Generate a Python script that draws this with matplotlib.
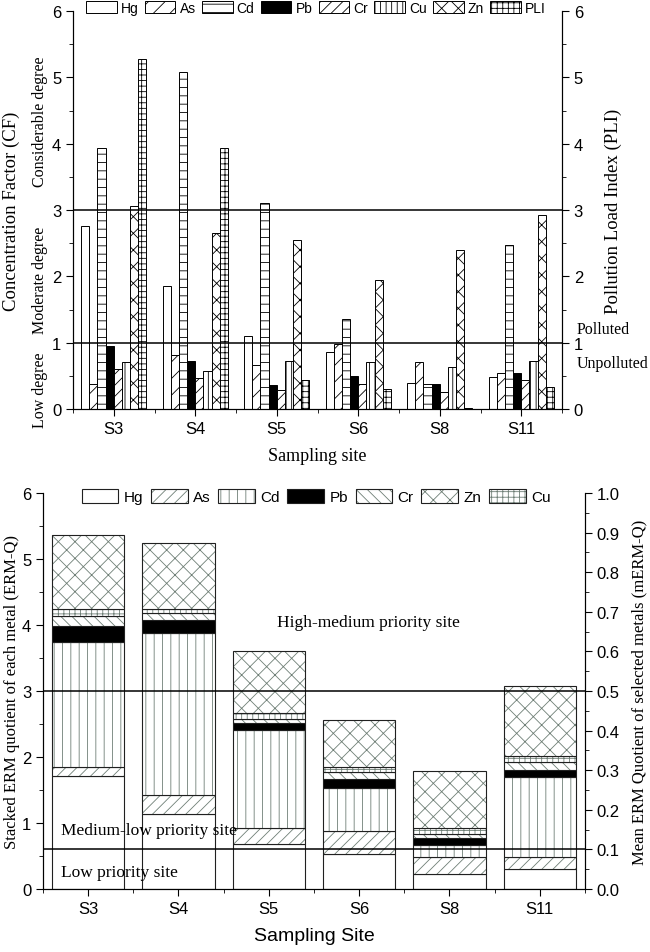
import numpy as np
import matplotlib
matplotlib.use("Agg")
import matplotlib.pyplot as plt
from matplotlib.patches import Patch
from matplotlib.ticker import MultipleLocator, FixedLocator, FormatStrFormatter
from matplotlib.transforms import blended_transform_factory

SANS = "Liberation Sans"
SERIF = "Liberation Serif"
plt.rcParams["font.family"] = SANS
plt.rcParams["hatch.linewidth"] = 0.6

sites = ["S3", "S4", "S5", "S6", "S8", "S11"]

# top chart: concentration factor per metal + PLI
cf_metals = ["Hg", "As", "Cd", "Pb", "Cr", "Cu", "Zn", "PLI"]
cf_hg = [2.76, 1.86, 1.10, 0.86, 0.39, 0.48]
cf_as = [0.37, 0.82, 0.67, 0.98, 0.71, 0.55]
cf_cd = [3.93, 5.08, 3.11, 1.36, 0.38, 2.47]
cf_pb = [0.95, 0.72, 0.36, 0.50, 0.37, 0.55]
cf_cr = [0.61, 0.46, 0.28, 0.37, 0.26, 0.43]
cf_cu = [0.71, 0.57, 0.73, 0.71, 0.64, 0.73]
cf_zn = [3.06, 2.65, 2.55, 1.94, 2.40, 2.92]
pli = [5.28, 3.93, 0.44, 0.30, 0.02, 0.33]

# bottom chart: ERM quotient per metal (stacked)
erm_metals = ["Hg", "As", "Cd", "Pb", "Cr", "Cu", "Zn"]
erm_hg = [1.71, 1.13, 0.68, 0.53, 0.23, 0.30]
erm_as = [0.14, 0.29, 0.24, 0.35, 0.25, 0.18]
erm_cd = [1.89, 2.46, 1.49, 0.65, 0.19, 1.22]
erm_pb = [0.24, 0.19, 0.10, 0.13, 0.10, 0.11]
erm_cr = [0.16, 0.11, 0.07, 0.11, 0.07, 0.12]
erm_cu = [0.10, 0.07, 0.09, 0.08, 0.08, 0.09]
erm_zn = [1.12, 0.99, 0.93, 0.71, 0.87, 1.06]

fig = plt.figure(figsize=(6.5, 9.53), dpi=100)

# ---------------- top chart ----------------
ax1 = fig.add_axes([73 / 650, 1 - 410 / 953, 489 / 650, 398 / 953])
x = np.arange(len(sites))
w = 0.1
top_series = [cf_hg, cf_as, cf_cd, cf_pb, cf_cr, cf_cu, cf_zn, pli]
top_hatch = ["", "//", "--", "", "///", "|||", "xx", "+++"]
top_face = ["white", "white", "white", "black", "white", "white", "white", "white"]
handles = []
for i, (vals, h, fc) in enumerate(zip(top_series, top_hatch, top_face)):
    b = ax1.bar(x + (i - 3.5) * w, vals, w, color=fc, edgecolor="black",
                hatch=h, linewidth=0.7, zorder=2)
    handles.append(b)
ax1.axhline(1, color="black", lw=1.1, zorder=3)
ax1.axhline(3, color="black", lw=1.1, zorder=3)
ax1.set_xlim(-0.5, 5.5)
ax1.set_ylim(0, 6)
ax1.set_xticks(x)
ax1.set_xticklabels(sites, fontsize=12)
ax1.xaxis.set_minor_locator(FixedLocator(np.arange(-0.5, 6, 1)))
ax1.yaxis.set_major_locator(MultipleLocator(1))
ax1.yaxis.set_minor_locator(MultipleLocator(0.5))
ax1.tick_params(axis="both", which="major", direction="out", length=5, labelsize=12)
ax1.tick_params(axis="both", which="minor", direction="out", length=3)
ax1.spines["top"].set_visible(False)
ax1.set_xlabel("Sampling site", family=SERIF, fontsize=13, labelpad=8)
ax1.set_ylabel("Concentration Factor (CF)", family=SERIF, fontsize=13.5, va="center")
ax1.yaxis.set_label_coords((11 - 73) / 489, 0.5)

ax1r = ax1.twinx()
ax1r.set_ylim(0, 6)
ax1r.yaxis.set_major_locator(MultipleLocator(1))
ax1r.yaxis.set_minor_locator(MultipleLocator(0.5))
ax1r.tick_params(axis="y", which="major", direction="out", length=5, labelsize=12)
ax1r.tick_params(axis="y", which="minor", direction="out", length=3)
ax1r.spines["top"].set_visible(False)
ax1r.set_ylabel("Pollution Load Index (PLI)", family=SERIF, fontsize=13.5, va="center")
ax1r.yaxis.set_label_coords((613 - 73) / 489, 0.5)

trl = blended_transform_factory(fig.transFigure, ax1.transData)
ax1.text(40 / 650, 0.3, "Low degree", transform=trl, rotation=90, family=SERIF,
         fontsize=11.5, ha="center", va="center")
ax1.text(40 / 650, 1.95, "Moderate degree", transform=trl, rotation=90, family=SERIF,
         fontsize=11.5, ha="center", va="center")
ax1.text(40 / 650, 4.35, "Considerable degree", transform=trl, rotation=90, family=SERIF,
         fontsize=11.5, ha="center", va="center")
ax1.text(577 / 650, 1.2, "Polluted", transform=trl, family=SERIF, fontsize=11.5,
         ha="left", va="center")
ax1.text(577 / 650, 0.7, "Unpolluted", transform=trl, family=SERIF, fontsize=11.5,
         ha="left", va="center")

ax1.legend(handles, cf_metals, loc="center", bbox_to_anchor=(0.497, 1.008), ncol=8,
           frameon=False, fontsize=10, handlelength=2.2, handleheight=1.0,
           handletextpad=0.3, columnspacing=0.45, borderaxespad=0)

# ---------------- bottom chart ----------------
ax2 = fig.add_axes([43 / 650, 1 - 890 / 953, 542 / 650, 396 / 953])
gray = "#6f7f76"
bot_series = [erm_hg, erm_as, erm_cd, erm_pb, erm_cr, erm_cu, erm_zn]
bot_hatch = ["", "///", "||", "", "\\\\\\", "+++", "xx"]
bot_face = ["white", "white", "white", "black", "white", "white", "white"]
bottom = np.zeros(len(sites))
hmap = {}
for name, vals, h, fc in zip(erm_metals, bot_series, bot_hatch, bot_face):
    vals = np.array(vals)
    ax2.bar(x, vals, 0.8, bottom=bottom, color=fc, edgecolor=gray, hatch=h,
            linewidth=0, zorder=2)
    ax2.bar(x, vals, 0.8, bottom=bottom, fill=False, edgecolor="#202020",
            linewidth=0.8, zorder=2)
    hmap[name] = (Patch(facecolor=fc, edgecolor=gray, hatch=h, linewidth=0),
                  Patch(fill=False, edgecolor="#202020", linewidth=0.8))
    bottom = bottom + vals
ax2.axhline(3, color="black", lw=1.1, zorder=3)
ax2.axhline(0.6, color="black", lw=1.1, zorder=3)
ax2.set_xlim(-0.5, 5.5)
ax2.set_ylim(0, 6)
ax2.set_xticks(x)
ax2.set_xticklabels(sites, fontsize=12)
ax2.xaxis.set_minor_locator(FixedLocator(np.arange(-0.5, 6, 1)))
ax2.yaxis.set_major_locator(MultipleLocator(1))
ax2.yaxis.set_minor_locator(MultipleLocator(0.5))
ax2.tick_params(axis="both", which="major", direction="out", length=5, labelsize=12)
ax2.tick_params(axis="both", which="minor", direction="out", length=3)
ax2.spines["top"].set_visible(False)
ax2.set_xlabel("Sampling Site", fontsize=14, labelpad=8)
ax2.set_ylabel("Stacked ERM quotient of each metal (ERM-Q)", family=SERIF,
               fontsize=12, va="center")
ax2.yaxis.set_label_coords((12 - 43) / 542, 0.5)

ax2r = ax2.twinx()
ax2r.set_ylim(0, 1.0)
ax2r.yaxis.set_major_locator(MultipleLocator(0.1))
ax2r.yaxis.set_minor_locator(MultipleLocator(0.05))
ax2r.yaxis.set_major_formatter(FormatStrFormatter("%.1f"))
ax2r.tick_params(axis="y", which="major", direction="out", length=5, labelsize=12)
ax2r.tick_params(axis="y", which="minor", direction="out", length=3)
ax2r.spines["top"].set_visible(False)
ax2r.set_ylabel("Mean ERM Quotient of selected metals (mERM-Q)", family=SERIF,
                fontsize=12, va="center")
ax2r.yaxis.set_label_coords((639 - 43) / 542, 0.5)

ax2.text(3.1, 4.04, "High-medium priority site", family=SERIF, fontsize=12.5,
         ha="center", va="center")
ax2.text(-0.3, 0.89, "Medium-low priority site", family=SERIF, fontsize=12.5,
         ha="left", va="center")
ax2.text(-0.3, 0.26, "Low priority site", family=SERIF, fontsize=12.5,
         ha="left", va="center")

leg_order = ["Hg", "As", "Cd", "Pb", "Cr", "Zn", "Cu"]
ax2.legend([hmap[n] for n in leg_order], leg_order, loc="center",
           bbox_to_anchor=(0.504, 0.99), ncol=7, frameon=False, fontsize=11,
           handlelength=2.4, handleheight=1.0, handletextpad=0.35,
           columnspacing=0.5, borderaxespad=0)

fig.savefig("out.png", dpi=100)
